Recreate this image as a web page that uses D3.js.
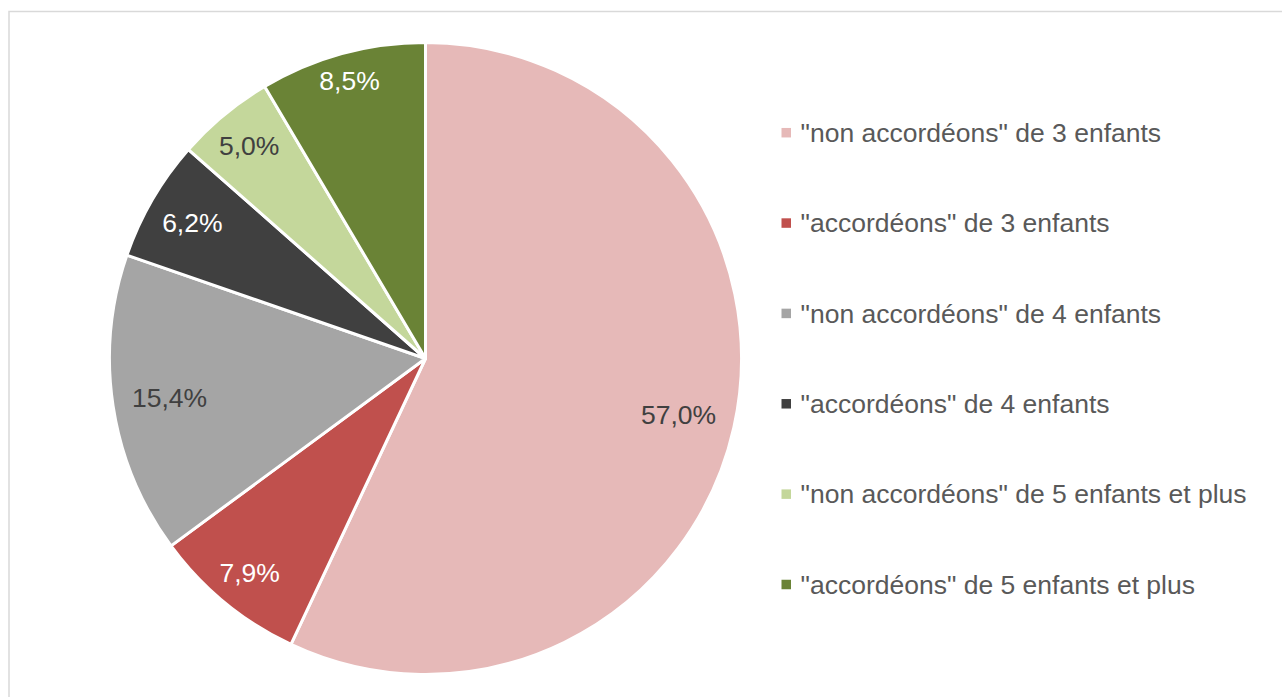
<!DOCTYPE html>
<html>
<head>
<meta charset="utf-8">
<script src="https://cdn.jsdelivr.net/npm/d3@7"></script>
<style>
  body { margin: 0; background: #fff; }
  svg { display: block; font-family: "Liberation Sans", Arial, sans-serif; }
</style>
</head>
<body>
<script>
// Chart data
var categories = [
  '"non accordéons" de 3 enfants',
  '"accordéons" de 3 enfants',
  '"non accordéons" de 4 enfants',
  '"accordéons" de 4 enfants',
  '"non accordéons" de 5 enfants et plus',
  '"accordéons" de 5 enfants et plus'
];
var values = [57.0, 7.9, 15.4, 6.2, 5.0, 8.5];

// Colours (fill and label)
var sliceColors = ["#E6B9B8", "#C0504D", "#A5A5A5", "#404040", "#C4D79B", "#6A8336"];
var labelColors = ["#404040", "#ffffff", "#404040", "#ffffff", "#404040", "#ffffff"];

// SVG area
var svgWidth = 1282;
var svgHeight = 697;

var svg = d3.select("body")
  .append("svg")
  .attr("width", svgWidth)
  .attr("height", svgHeight);

// chart frame
svg.append("rect")
  .attr("x", 9)
  .attr("y", 11.5)
  .attr("width", 1400)
  .attr("height", 800)
  .attr("fill", "#fff")
  .attr("stroke", "#D9D9D9")
  .attr("stroke-width", 1.5);

var cx = 425.5, cy = 358.5, radius = 316;
var fmt = function(v) { return v.toFixed(1).replace(".", ",") + "%"; };

var pie = d3.pie().sort(null).value(d => d);
var arc = d3.arc().innerRadius(0).outerRadius(radius);

var pieGroup = svg.append("g")
  .attr("transform", `translate(${cx}, ${cy})`);

var arcs = pie(values);

pieGroup.selectAll(".slice")
  .data(arcs)
  .enter()
  .append("path")
  .attr("class", "slice")
  .attr("d", arc)
  .attr("fill", (d, i) => sliceColors[i])
  .attr("stroke", "#fff")
  .attr("stroke-width", 3)
  .attr("stroke-linejoin", "round");

// data labels, pushed in from the rim depending on their width
var labels = pieGroup.selectAll(".lbl")
  .data(arcs)
  .enter()
  .append("text")
  .attr("class", "lbl")
  .attr("text-anchor", "middle")
  .attr("dy", "0.35em")
  .style("font-size", "26.5px")
  .attr("fill", (d, i) => labelColors[i])
  .text(d => fmt(d.data));

labels.each(function(d) {
  var w = this.getComputedTextLength();
  var a = (d.startAngle + d.endAngle) / 2;
  var r = radius - 20 - Math.abs(Math.sin(a)) * w / 2;
  d3.select(this)
    .attr("x", Math.sin(a) * r)
    .attr("y", -Math.cos(a) * r);
});

// legend
var legendY = d3.scalePoint()
  .domain(categories)
  .range([132.7, 584.5]);

var legend = svg.append("g");

var items = legend.selectAll(".item")
  .data(categories)
  .enter()
  .append("g")
  .attr("class", "item")
  .attr("transform", d => `translate(781.5, ${legendY(d)})`);

items.append("rect")
  .attr("x", 0)
  .attr("y", -4.75)
  .attr("width", 9.5)
  .attr("height", 9.5)
  .attr("fill", (d, i) => sliceColors[i]);

items.append("text")
  .attr("x", 19)
  .attr("dy", "0.35em")
  .style("font-size", "26.5px")
  .attr("fill", "#595959")
  .text(d => d);
</script>
</body>
</html>
